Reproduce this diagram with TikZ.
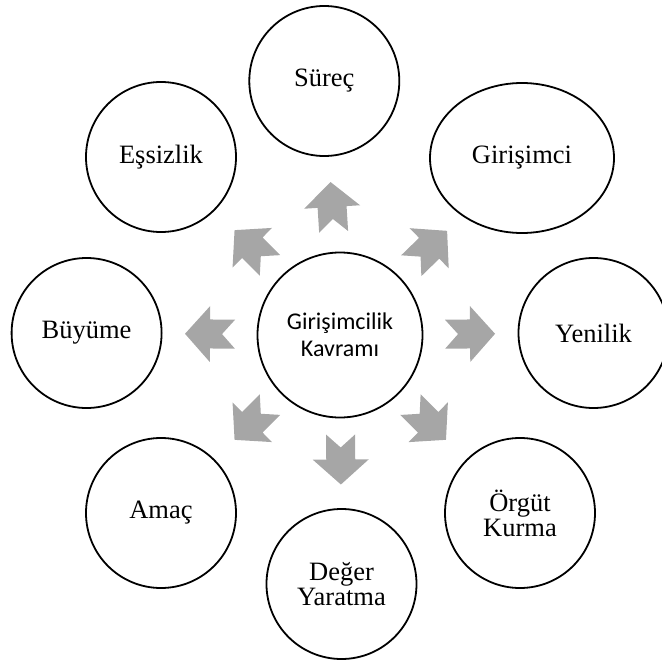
\documentclass[tikz,border=0pt]{standalone}
\usepackage{fontspec}
\setmainfont{Liberation Serif}
\newfontfamily\calfont{Carlito}
\usetikzlibrary{shapes.geometric}
\definecolor{arrowgray}{HTML}{A6A6A6}
\tikzset{
  outer/.style={circle, draw, line width=1.8pt, minimum size=150pt, inner sep=0pt,
    align=center, font=\fontsize{26.5}{25}\selectfont},
  outerell/.style={ellipse, draw, line width=1.8pt, minimum width=184pt, minimum height=150pt,
    inner sep=0pt, align=center, font=\fontsize{26.5}{25}\selectfont},
  centre/.style={circle, draw, line width=1.8pt, minimum size=165pt, inner sep=0pt,
    align=center, font=\calfont\fontsize{24}{27.4}\selectfont},
  garrow/.pic={\fill[arrowgray] (25pt,0) -- (0,28pt) -- (0,14.5pt) -- (-25pt,14.5pt)
    -- (-12pt,0) -- (-25pt,-14.5pt) -- (0,-14.5pt) -- (0,-28pt) -- cycle;},
  ga/.style={pos=#1, sloped, allow upside down}
}
\begin{document}
\begin{tikzpicture}
\useasboundingbox (0,0) rectangle (661pt,-669pt);
\node[centre] (c) at (340pt,-335pt) {Girişimcilik\\Kavramı};
\node[outer] (s) at (324.3pt,-81pt) {Süreç};
\node[outerell] (g) at (522pt,-158pt) {Girişimci};
\node[outer] (y) at (593.5pt,-333pt) {Yenilik};
\node[outer] (o) at (520pt,-513pt) {Örgüt\\Kurma};
\node[outer] (d) at (341.5pt,-584pt) {Değer\\Yaratma};
\node[outer] (a) at (161pt,-513pt) {Amaç};
\node[outer] (b) at (86.6pt,-333pt) {Büyüme};
\node[outer] (e) at (161pt,-157pt) {Eşsizlik};
\path (c.center) -- (s.center) pic[ga=0.504] {garrow};
\path (c.center) -- (g.center) pic[ga=0.49] {garrow};
\path (c.center) -- (y.center) pic[ga=0.513] {garrow};
\path (c.center) -- (o.center) pic[ga=0.49] {garrow};
\path (c.center) -- (d.center) pic[ga=0.50] {garrow};
\path (c.center) -- (a.center) pic[ga=0.49] {garrow};
\path (c.center) -- (b.center) pic[ga=0.513] {garrow};
\path (c.center) -- (e.center) pic[ga=0.49] {garrow};
\end{tikzpicture}
\end{document}
